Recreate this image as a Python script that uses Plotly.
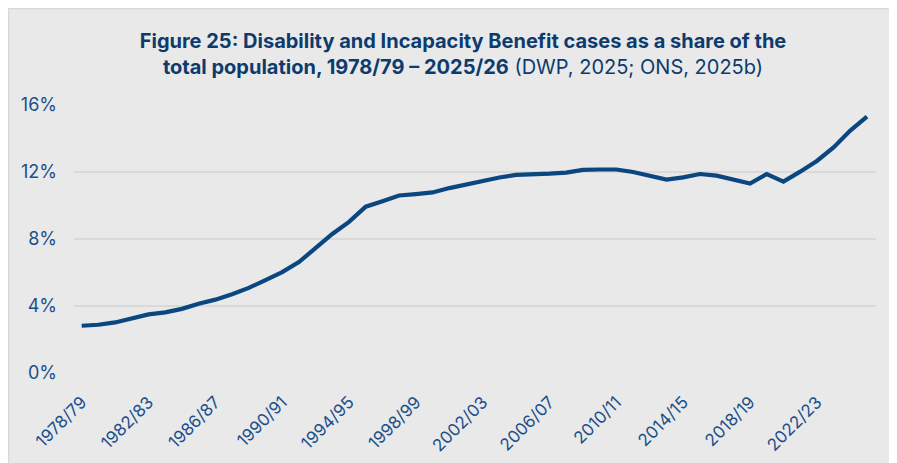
import plotly.graph_objects as go

years = [f"{y}/{str(y + 1)[-2:]}" for y in range(1978, 2026)]
share = [2.82, 2.88, 3.02, 3.28, 3.50, 3.62, 3.83, 4.13, 4.38, 4.70, 5.08, 5.55,
         6.02, 6.62, 7.50, 8.30, 9.02, 9.93, 10.26, 10.60, 10.68, 10.78, 11.04, 11.27,
         11.47, 11.67, 11.83, 11.85, 11.90, 11.96, 12.13, 12.15, 12.15, 12.00, 11.80, 11.55,
         11.68, 11.88, 11.78, 11.56, 11.31, 11.88, 11.43, 12.02, 12.66, 13.47, 14.47, 15.30]
tick_labels = years[::4]
y_ticks = [0, 4, 8, 12, 16]
y_tick_text = ["0%", "4%", "8%", "12%", "16%"]

# page body has an 8px margin, so the figure is drawn slightly smaller
W, H = 889, 455
L, R, T, B = 66, 21, 97, 90

fig = go.Figure()
fig.add_trace(go.Scatter(x=years, y=share, mode="lines",
                         line=dict(color="#0a4680", width=4.2, shape="linear"),
                         hoverinfo="skip"))

pw = W - L - R
ph = H - T - B
fig.add_shape(type="rect", xref="paper", yref="paper",
              x0=(-L + 0.5) / pw, x1=(W - L + 5) / pw,
              y0=-(B + 5) / ph, y1=(ph + T - 0.5) / ph,
              fillcolor="rgba(0,0,0,0)", line=dict(color="#d8d8d8", width=1.5), layer="below")

fig.update_layout(
    width=W, height=H,
    margin=dict(l=L, r=R, t=T, b=B),
    paper_bgcolor="#e9e9e9", plot_bgcolor="rgba(0,0,0,0)",
    showlegend=False,
    font=dict(family="Inter, sans-serif", color="#1b4f8c"),
    title=dict(
        text="<b>Figure 25: Disability and Incapacity Benefit cases as a share of the</b><br>"
             "<b>total population, 1978/79 – 2025/26</b> (DWP, 2025; ONS, 2025b)",
        x=455 / W, xanchor="center", xref="container",
        y=1 - 40 / H, yanchor="top", yref="container",
        pad=dict(t=0),
        font=dict(family="Inter, sans-serif", size=20, color="#0d3b6e"),
    ),
    xaxis=dict(type="category", range=[-0.46, 47.54],
               tickmode="array", tickvals=tick_labels, ticktext=tick_labels,
               tickangle=-45, tickfont=dict(size=17, color="#1b4f8c"),
               ticklabelstandoff=15, automargin=False,
               showgrid=False, zeroline=False, showline=False, ticks=""),
    yaxis=dict(range=[0, 16], tickmode="array", tickvals=y_ticks, ticktext=y_tick_text,
               tickfont=dict(size=18, color="#1b4f8c"), automargin=False,
               showgrid=True, gridcolor="#d9d9d9", gridwidth=1.5,
               zeroline=False, showline=False, ticks="", ticklabelstandoff=16),
)

fig.write_html("out.html")
